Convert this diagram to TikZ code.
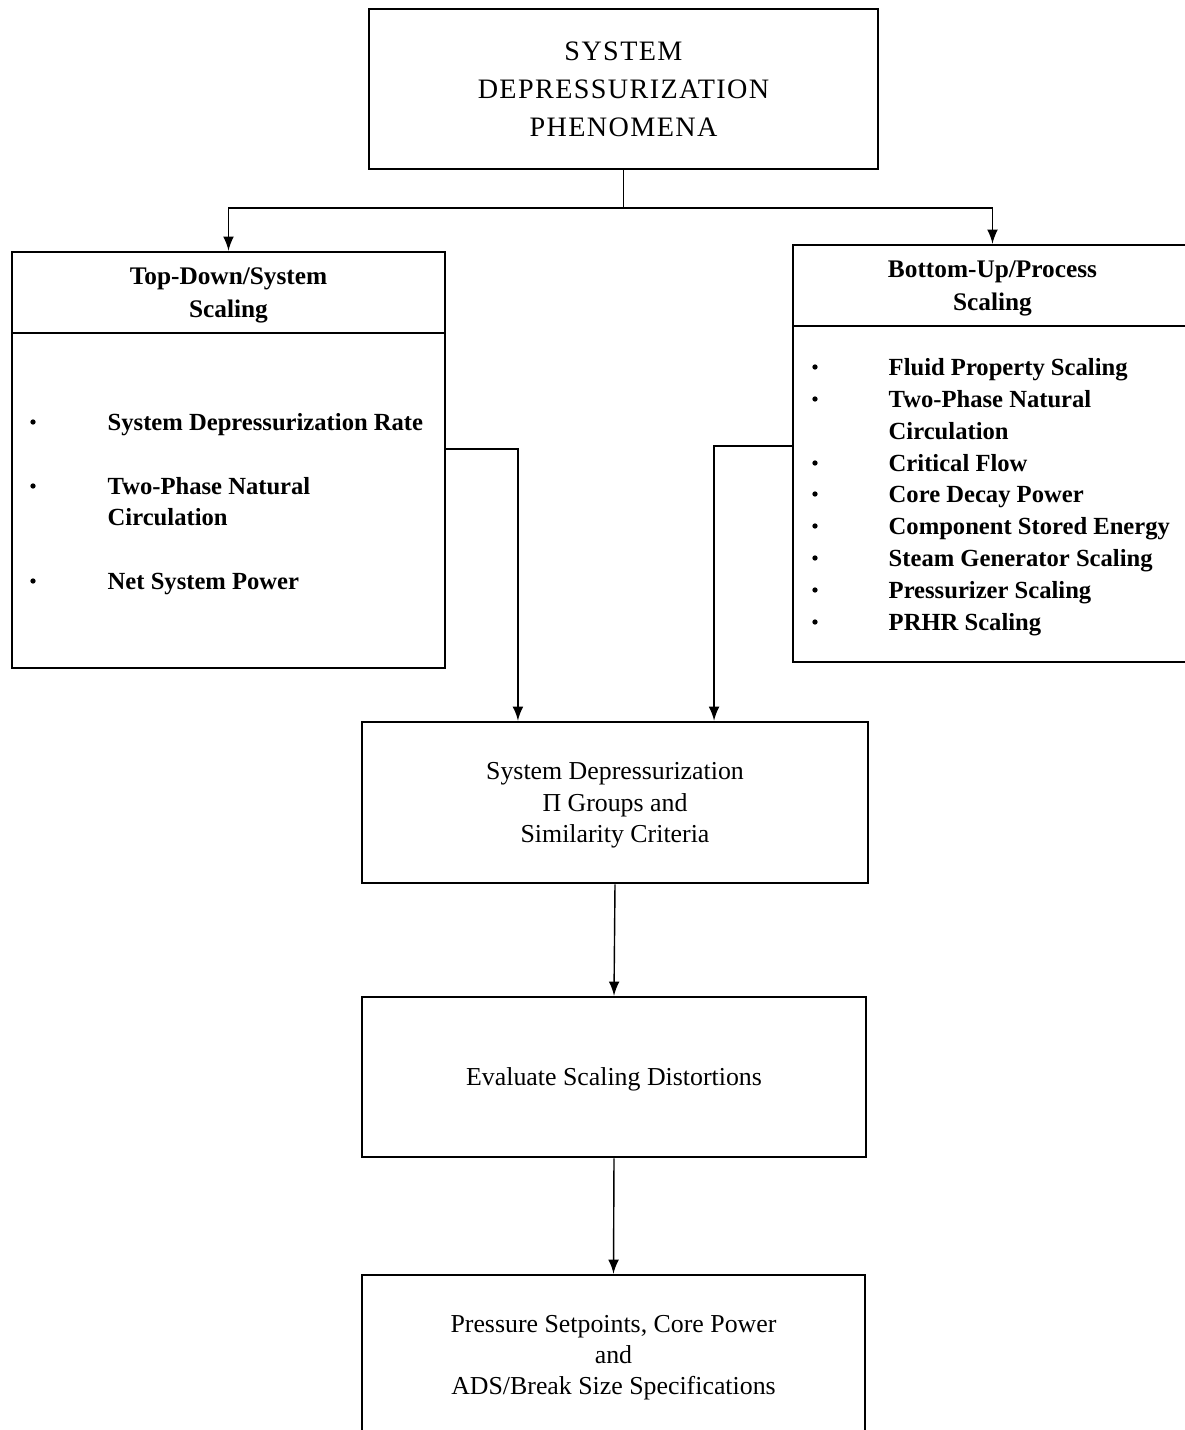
\documentclass[tikz,border=0pt]{standalone}
\usepackage{fontspec}
\setmainfont{Liberation Serif}
\usepackage{tikz}
\newcommand{\toptext}{\fontsize{8}{10.8}\selectfont\addfontfeature{LetterSpace=5}}
\newcommand{\sidehead}{\fontsize{7.2}{9.4}\selectfont\bfseries}
\newcommand{\boxtext}{\fontsize{7.35}{8.9}\selectfont}
\tikzstyle{box} = [draw, line width=0.7pt, inner sep=0pt, align=center, text depth=0pt]
\tikzstyle{item} = [anchor=base west, yshift=-2.3pt, inner sep=0pt, font=\fontsize{7}{8.5}\selectfont\bfseries]

\begin{document}
\begin{tikzpicture}[x=0.01cm,y=-0.01cm]
	\useasboundingbox (0,0) rectangle (1184,1430);
	%\draw[help lines,step=100] (0,0) grid (1184,1430);
	\node [box, minimum width=5.09cm, minimum height=1.6cm, font=\toptext] (phen) at (623.5,89) {SYSTEM\\DEPRESSURIZATION\\PHENOMENA};

	\node [box, minimum width=4.33cm, minimum height=0.81cm, font=\sidehead] (tdhead) at (228.5,292.5) {Top-Down/System\\Scaling};
	\node [box, minimum width=4.33cm, minimum height=3.35cm] (tdbody) at (228.5,500.5) {};
	\node [box, minimum width=3.99cm, minimum height=0.81cm, font=\sidehead] (buhead) at (992.5,285.5) {Bottom-Up/Process\\Scaling};
	\node [box, minimum width=3.99cm, minimum height=3.36cm] (bubody) at (992.5,494) {};

	\node [box, minimum width=5.06cm, minimum height=1.61cm, font=\boxtext] (groups) at (615,802.5) {System Depressurization\\Π Groups and\\Similarity Criteria};
	\node [box, minimum width=5.04cm, minimum height=1.6cm, font=\boxtext] (distort) at (614,1077) {Evaluate Scaling Distortions};
	\node [box, minimum width=5.03cm, minimum height=1.6cm, font=\boxtext] (specs) at (613.5,1355) {Pressure Setpoints, Core Power\\and\\ADS/Break Size Specifications};

	% top-down list
	\node [item] (td1) at (107,422) {System Depressurization Rate};
	\node [item] (td2) at (107,486) {Two-Phase Natural};
	\node [item] (td3) at (107,517) {Circulation};
	\node [item] (td4) at (107,581) {Net System Power};
	\foreach \y in {422,486,581}
		\fill (33,\y) circle (0.75pt);

	% bottom-up list
	\foreach \y/\t [count=\i] in {367/Fluid Property Scaling, 399/Two-Phase Natural, 431/Circulation, 463/Critical Flow, 494/Core Decay Power, 526/Component Stored Energy, 558/Steam Generator Scaling, 590/Pressurizer Scaling, 622/PRHR Scaling}
		\node [item] (bu\i) at (888,\y) {\t};
	\foreach \y in {367,399,463,494,526,558,590,622}
		\fill (815,\y) circle (0.75pt);

	\draw (phen.south) -- (phen.south |- 0,208) coordinate (fork);
	\draw [-latex] (fork) -| (tdhead.north);
	\draw [-latex] (fork) -| (buhead.north);
	\draw [-latex] (tdbody.east |- 0,449) -| ([xshift=-0.97cm]groups.north);
	\draw [-latex] (bubody.west |- 0,446) -| ([xshift=0.99cm]groups.north);
	\draw [-latex] (groups.south) -- (distort.north);
	\draw [-latex] (distort.south) -- (specs.north);
\end{tikzpicture}
\end{document}
